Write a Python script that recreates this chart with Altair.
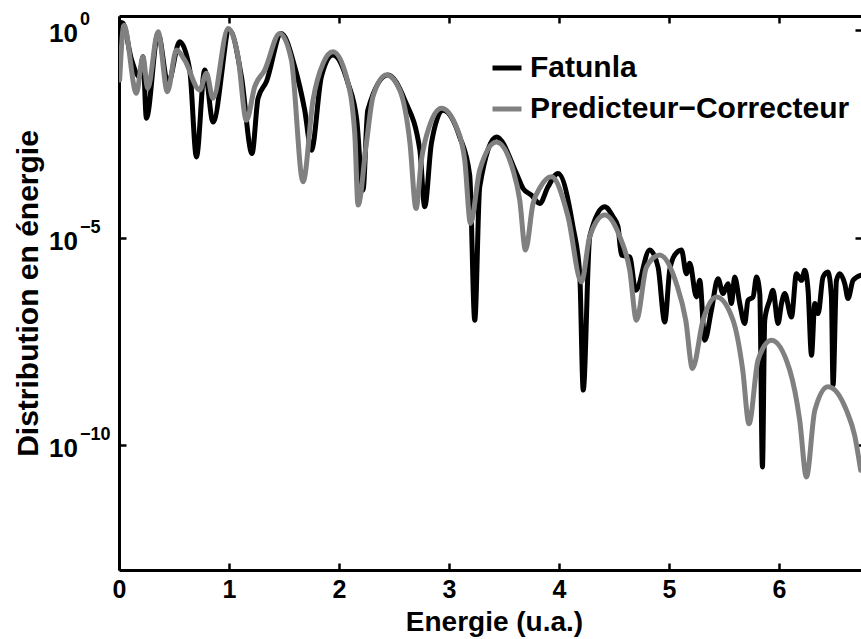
import altair as alt
import pandas as pd

# ---- data (energy in u.a., log10 of the energy distribution) ----
energie_fatunla = [0.006, 0.034, 0.115, 0.188, 0.218, 0.249, 0.355, 0.445, 0.552, 0.643, 0.704, 0.779, 0.855,
                   1.006, 1.113, 1.209, 1.264, 1.34, 1.476, 1.597, 1.688, 1.749, 1.84, 1.945, 2.082, 2.161,
                   2.218, 2.261, 2.445, 2.597, 2.735, 2.779, 2.84, 2.945, 3.097, 3.188, 3.234, 3.279, 3.431,
                   3.613, 3.673, 3.749, 3.825, 3.9, 3.991, 4.127, 4.188, 4.22, 4.279, 4.415, 4.491, 4.536,
                   4.567, 4.643, 4.697, 4.824, 4.9, 4.961, 5.006, 5.052, 5.113, 5.158, 5.188, 5.249, 5.279,
                   5.325, 5.385, 5.445, 5.491, 5.536, 5.567, 5.597, 5.643, 5.688, 5.718, 5.764, 5.795, 5.825,
                   5.849, 5.87, 5.915, 5.945, 5.991, 6.022, 6.052, 6.113, 6.158, 6.204, 6.234, 6.264, 6.295,
                   6.325, 6.355, 6.4, 6.445, 6.476, 6.491, 6.522, 6.552, 6.597, 6.627, 6.673, 6.742]
log10_fatunla = [0.18, 0.16, -0.73, -1.14, -0.65, -2.13, -0.09, -1.29, -0.29, -0.97, -3.06, -0.97, -2.22,
                 -0.01, -1.13, -2.98, -1.65, -1.25, -0.09, -0.89, -1.93, -2.90, -1.13, -0.61, -1.29, -2.17,
                 -3.86, -1.94, -1.09, -1.69, -2.90, -4.26, -2.73, -1.94, -2.58, -3.50, -6.99, -3.78, -2.58,
                 -3.46, -3.82, -3.98, -4.18, -3.78, -3.46, -4.74, -5.87, -8.67, -4.98, -4.26, -4.50, -4.74,
                 -5.42, -5.47, -6.27, -5.30, -5.71, -7.03, -5.79, -5.42, -5.30, -5.87, -5.62, -6.43, -6.03,
                 -7.47, -6.75, -5.99, -6.35, -6.11, -6.59, -5.95, -6.59, -7.07, -6.51, -6.43, -5.95, -6.35,
                 -10.52, -6.99, -6.51, -6.27, -7.07, -6.59, -6.35, -6.91, -5.87, -6.03, -5.79, -6.27, -7.83,
                 -6.59, -6.83, -5.95, -5.83, -6.43, -8.55, -6.03, -5.87, -6.11, -6.47, -6.03, -5.91]

energie_pc = [0.006, 0.045, 0.158, 0.218, 0.261, 0.355, 0.44, 0.522, 0.597, 0.734, 0.795, 0.855, 0.991,
              1.082, 1.158, 1.234, 1.325, 1.461, 1.567, 1.673, 1.764, 1.855, 1.945, 2.067, 2.143, 2.173,
              2.249, 2.309, 2.431, 2.552, 2.645, 2.70, 2.749, 2.825, 2.931, 3.067, 3.143, 3.195, 3.279,
              3.431, 3.582, 3.643, 3.695, 3.764, 3.825, 3.931, 4.082, 4.204, 4.279, 4.415, 4.552, 4.643,
              4.704, 4.795, 4.915, 5.067, 5.152, 5.213, 5.309, 5.431, 5.582, 5.67, 5.727, 5.809, 5.931,
              6.097, 6.188, 6.249, 6.325, 6.445, 6.613, 6.687, 6.742]
log10_pc = [-1.21, 0.11, -1.53, -0.65, -1.41, -0.05, -1.49, -0.49, -0.73, -1.45, -1.05, -1.65, 0.03,
            -0.65, -2.18, -1.37, -0.97, -0.09, -0.73, -3.66, -1.69, -0.81, -0.53, -1.13, -2.49, -4.22,
            -2.73, -1.61, -1.09, -1.45, -2.73, -4.30, -3.14, -2.30, -1.89, -2.34, -3.14, -4.66, -3.38,
            -2.70, -3.38, -4.10, -5.30, -4.18, -3.81, -3.54, -4.50, -6.07, -4.98, -4.46, -4.98, -5.79,
            -6.99, -5.71, -5.42, -6.11, -6.99, -8.15, -6.99, -6.43, -6.99, -8.19, -9.48, -7.95, -7.47,
            -8.19, -9.40, -10.76, -9.16, -8.59, -9.16, -9.76, -10.6]

series = ["Fatunla", "Predicteur\u2212Correcteur"]
colors = ["#000000", "#808080"]
xtick_values = [0, 1, 2, 3, 4, 5, 6]
ytick_values = [1, 1e-5, 1e-10]
ytick_base = ["10", "10", "10"]
ytick_exponents = ["0", "\u22125", "\u221210"]

df = pd.concat([
    pd.DataFrame({"Energie": energie_fatunla,
                  "Distribution": [10 ** v for v in log10_fatunla],
                  "serie": series[0]}),
    pd.DataFrame({"Energie": energie_pc,
                  "Distribution": [10 ** v for v in log10_pc],
                  "serie": series[1]}),
], ignore_index=True)
ticks_df = pd.DataFrame({"valeur": ytick_values, "base": ytick_base, "exposant": ytick_exponents})

FONT = "Liberation Sans"
W, H = 742, 554
xscale = alt.Scale(domain=[0, 6.745], nice=False, zero=False)
yscale = alt.Scale(type="log", domain=[1e-13, 10 ** 0.33], nice=False)

color = alt.Color(
    "serie:N",
    scale=alt.Scale(domain=series, range=colors),
    legend=alt.Legend(title=None, orient="none", legendX=371, legendY=35,
                      symbolType="stroke", symbolSize=841, symbolStrokeWidth=5,
                      labelFont=FONT, labelFontSize=30, labelFontWeight="bold", labelLimit=0,
                      labelColor="black", labelOffset=6, rowPadding=9, padding=0),
)

axis_common = dict(domainColor="black", domainWidth=3, tickColor="black", tickWidth=2.5,
                   grid=False, tickSize=alt.ExprRef(expr="-7"))

line_props = dict(strokeWidth=5, strokeCap="round", strokeJoin="round", clip=True,
                  interpolate="monotone")

black = alt.Chart(df).transform_filter(alt.datum.serie == series[0]).mark_line(**line_props).encode(
    x=alt.X("Energie:Q", scale=xscale,
            axis=alt.Axis(orient="top", labels=False, title=None, values=xtick_values, **axis_common)),
    y=alt.Y("Distribution:Q", scale=yscale,
            axis=alt.Axis(orient="right", labels=False, title=None, domain=False, values=ytick_values,
                          tickColor="black", tickWidth=2.5, grid=False, tickSize=alt.ExprRef(expr="-6"))),
    color=color,
)

gray = alt.Chart(df).transform_filter(alt.datum.serie == series[1]).mark_line(**line_props).encode(
    x=alt.X("Energie:Q", scale=xscale,
            axis=alt.Axis(orient="bottom", values=xtick_values, format="d", labelFlush=False,
                          labelFont=FONT, labelFontSize=25, labelFontWeight="bold", labelColor="black",
                          labelPadding=14,
                          title="Energie (u.a.)", titleFont=FONT, titleFontSize=28, titleFontWeight="bold",
                          titleColor="black", titleX=375, titleY=60, titleBaseline="alphabetic",
                          titleAlign="center", **axis_common)),
    y=alt.Y("Distribution:Q", scale=yscale,
            axis=alt.Axis(orient="left", values=ytick_values, labels=False,
                          title="Distribution en énergie", titleFont=FONT, titleFontSize=30,
                          titleFontWeight="bold", titleColor="black", titleX=-82, titleY=277,
                          titleAngle=270, titleBaseline="alphabetic", titleAlign="center",
                          **axis_common)),
    color=color,
)

base_text = alt.Chart(ticks_df).mark_text(
    align="left", baseline="alphabetic", font=FONT, fontSize=26, fontWeight="bold", color="black", dy=12
).encode(x=alt.value(-70), y=alt.Y("valeur:Q", scale=yscale, axis=None), text="base:N")

exp_text = alt.Chart(ticks_df).mark_text(
    align="left", baseline="alphabetic", font=FONT, fontSize=18, fontWeight="bold", color="black", dy=-5
).encode(x=alt.value(-39), y=alt.Y("valeur:Q", scale=yscale, axis=None), text="exposant:N")

chart = alt.layer(black, gray, base_text, exp_text).resolve_axis(
    x="independent", y="independent"
).properties(
    width=W, height=H,
    autosize=alt.AutoSizeParams(type="none"),
    padding={"left": 119, "top": 16, "right": 0, "bottom": 69},
).configure_view(stroke=None)

chart.save("out.html", embed_options={"renderer": "svg", "actions": False})
